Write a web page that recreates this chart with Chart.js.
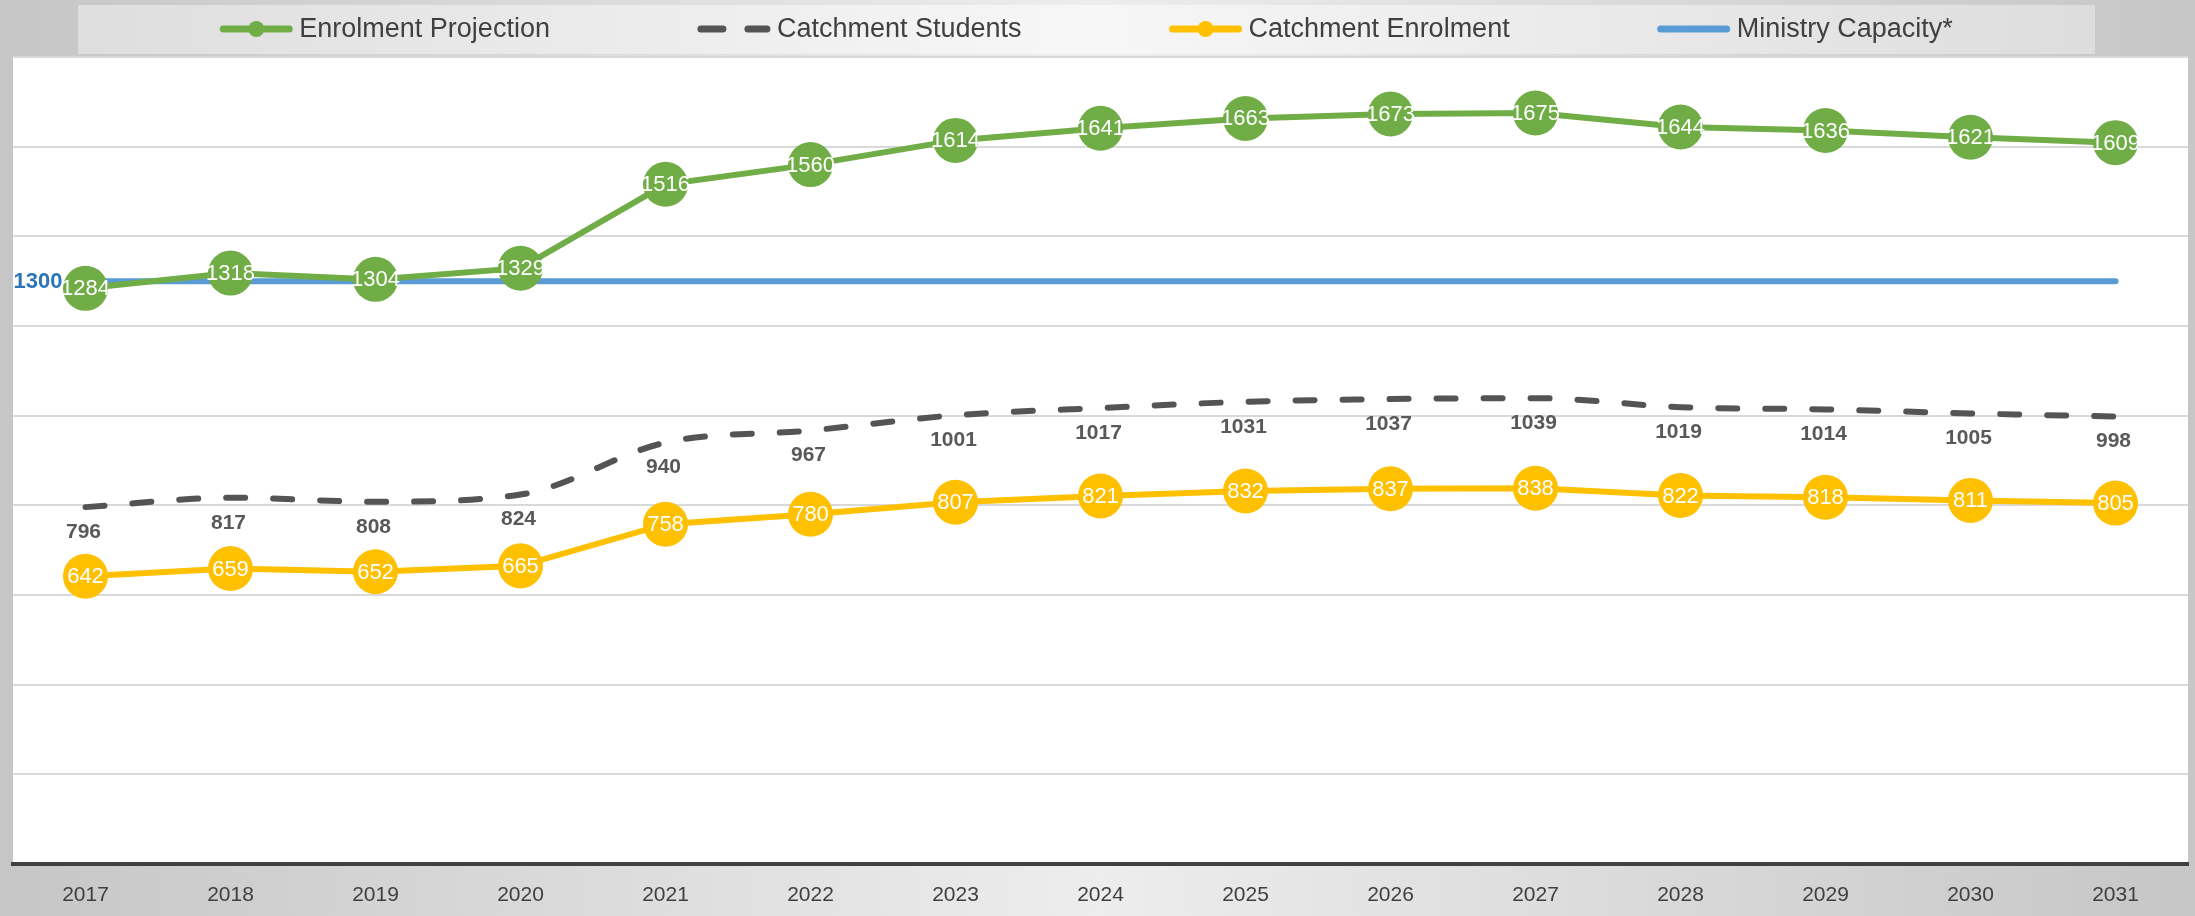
<!DOCTYPE html>
<html>
<head>
<meta charset="utf-8">
<script src="https://cdn.jsdelivr.net/npm/chart.js@4"></script>
<style>
  html, body { margin: 0; padding: 0; background: #d8d8d8; }
  canvas { display: block; }
</style>
</head>
<body>
<canvas id="enrolChart" width="2195" height="916"></canvas>
<script>
// chart data
const years = ["2017", "2018", "2019", "2020", "2021", "2022", "2023", "2024", "2025", "2026", "2027", "2028", "2029", "2030", "2031"];
const enrolmentProjection = [1284, 1318, 1304, 1329, 1516, 1560, 1614, 1641, 1663, 1673, 1675, 1644, 1636, 1621, 1609];
const catchmentStudents = [796, 817, 808, 824, 940, 967, 1001, 1017, 1031, 1037, 1039, 1019, 1014, 1005, 998];
const catchmentEnrolment = [642, 659, 652, 665, 758, 780, 807, 821, 832, 837, 838, 822, 818, 811, 805];
const ministryCapacity = [1300, 1300, 1300, 1300, 1300, 1300, 1300, 1300, 1300, 1300, 1300, 1300, 1300, 1300, 1300];
const seriesNames = ["Enrolment Projection", "Catchment Students", "Catchment Enrolment", "Ministry Capacity*"];

const GREEN = "#70AD47";
const GREY = "#545454";
const YELLOW = "#FFC000";
const BLUE = "#5B9BD5";
const FONT = "'Liberation Sans', Arial, sans-serif";

// background, legend box and white plot area
const backdrop = {
  id: "backdrop",
  beforeDraw(chart) {
    const ctx = chart.ctx;
    const w = chart.width, h = chart.height;
    const a = chart.chartArea;
    ctx.save();
    let g = ctx.createLinearGradient(0, 0, w, 0);
    g.addColorStop(0, "#c6c6c6");
    g.addColorStop(0.5, "#ededed");
    g.addColorStop(1, "#c6c6c6");
    ctx.fillStyle = g;
    ctx.fillRect(0, 0, w, h);

    // legend box
    g = ctx.createLinearGradient(78, 0, 2095, 0);
    g.addColorStop(0, "#dedede");
    g.addColorStop(0.5, "#f7f7f7");
    g.addColorStop(1, "#dddddd");
    ctx.fillStyle = g;
    ctx.fillRect(78, 5, 2095 - 78, 49);

    ctx.fillStyle = "#ffffff";
    ctx.fillRect(a.left, a.top, a.right - a.left, a.bottom - a.top);
    ctx.restore();
  }
};

// legend drawn like the spreadsheet one
const lineLegend = {
  id: "lineLegend",
  afterDraw(chart) {
    const ctx = chart.ctx;
    const markLen = 72, textGap = 7, itemGap = 148;
    const cy = 29;
    ctx.save();
    ctx.font = "27px " + FONT;
    ctx.textBaseline = "middle";
    ctx.textAlign = "left";
    const items = chart.data.datasets.map(ds => ({ ds: ds, w: markLen + textGap + ctx.measureText(ds.label).width }));
    let total = items.reduce((s, it) => s + it.w, 0) + itemGap * (items.length - 1);
    let x = (78 + 2095) / 2 - total / 2;
    items.forEach(it => {
      const ds = it.ds;
      ctx.strokeStyle = ds.borderColor;
      ctx.lineWidth = 7;
      ctx.lineCap = "round";
      ctx.beginPath();
      if (ds.borderDash && ds.borderDash.length) {
        ctx.moveTo(x + 3, cy); ctx.lineTo(x + 25, cy);
        ctx.moveTo(x + 50, cy); ctx.lineTo(x + markLen - 3, cy);
      } else {
        ctx.moveTo(x + 3, cy); ctx.lineTo(x + markLen - 3, cy);
      }
      ctx.stroke();
      if (ds.pointRadius > 0) {
        ctx.fillStyle = ds.pointBackgroundColor;
        ctx.beginPath();
        ctx.arc(x + markLen / 2, cy, 8, 0, Math.PI * 2);
        ctx.fill();
      }
      ctx.fillStyle = "#404040";
      ctx.fillText(ds.label, x + markLen + textGap, cy + 1);
      x += it.w + itemGap;
    });
    ctx.restore();
  }
};

// value labels
const valueLabels = {
  id: "valueLabels",
  afterDatasetsDraw(chart) {
    const ctx = chart.ctx;
    ctx.save();
    chart.data.datasets.forEach((ds, i) => {
      const meta = chart.getDatasetMeta(i);
      meta.data.forEach((pt, j) => {
        const v = ds.data[j];
        if (ds.labelStyle === "inside") {
          ctx.font = "22px " + FONT;
          ctx.fillStyle = "#ffffff";
          ctx.textAlign = "center";
          ctx.textBaseline = "middle";
          ctx.fillText(v, pt.x, pt.y + 1);
        } else if (ds.labelStyle === "below") {
          ctx.font = "bold 21px " + FONT;
          ctx.fillStyle = "#595959";
          ctx.textAlign = "center";
          ctx.textBaseline = "middle";
          ctx.fillText(v, pt.x - 2, pt.y + 25);
        } else if (ds.labelStyle === "first" && j === 0) {
          ctx.font = "bold 22px " + FONT;
          ctx.fillStyle = "#2E75B6";
          ctx.textAlign = "right";
          ctx.textBaseline = "middle";
          ctx.fillText(v, pt.x - 23, pt.y + 1);
        }
      });
    });
    ctx.restore();
  }
};

const ctx = document.getElementById("enrolChart").getContext("2d");

new Chart(ctx, {
  type: "line",
  data: {
    labels: years,
    datasets: [
      {
        label: seriesNames[0],
        data: enrolmentProjection,
        borderColor: GREEN,
        backgroundColor: GREEN,
        pointBackgroundColor: GREEN,
        pointBorderColor: GREEN,
        borderWidth: 6,
        pointRadius: 22.5,
        pointBorderWidth: 0,
        labelStyle: "inside",
        order: 2
      },
      {
        label: seriesNames[1],
        data: catchmentStudents,
        borderColor: GREY,
        backgroundColor: GREY,
        borderWidth: 6,
        borderDash: [19, 28],
        borderCapStyle: "round",
        pointRadius: 0,
        cubicInterpolationMode: "monotone",
        labelStyle: "below",
        order: 3
      },
      {
        label: seriesNames[2],
        data: catchmentEnrolment,
        borderColor: YELLOW,
        backgroundColor: YELLOW,
        pointBackgroundColor: YELLOW,
        pointBorderColor: YELLOW,
        borderWidth: 6,
        pointRadius: 22.5,
        pointBorderWidth: 0,
        labelStyle: "inside",
        order: 1
      },
      {
        label: seriesNames[3],
        data: ministryCapacity,
        borderColor: BLUE,
        backgroundColor: BLUE,
        borderWidth: 6,
        borderCapStyle: "round",
        pointRadius: 0,
        labelStyle: "first",
        order: 4
      }
    ]
  },
  options: {
    responsive: false,
    animation: false,
    clip: false,
    events: [],
    layout: { autoPadding: false, padding: { left: 13, right: 7, top: 57, bottom: 0 } },
    plugins: {
      legend: { display: false },
      tooltip: { enabled: false }
    },
    scales: {
      x: {
        offset: true,
        grid: { display: false, drawTicks: false },
        border: { display: true, color: "#404040", width: 4 },
        ticks: {
          color: "#404040",
          font: { family: FONT, size: 21 },
          padding: 19,
          maxRotation: 0
        },
        afterFit(s) { s.height = 52; }
      },
      y: {
        min: 0,
        max: 1800,
        ticks: { display: false, stepSize: 200 },
        grid: {
          drawTicks: false,
          lineWidth: 2,
          color: c => (c.tick && c.tick.value === 0 ? "rgba(0,0,0,0)" : "#d9d9d9")
        },
        border: { display: false },
        afterFit(s) { s.width = 0; }
      }
    }
  },
  plugins: [backdrop, lineLegend, valueLabels]
});
</script>
</body>
</html>
